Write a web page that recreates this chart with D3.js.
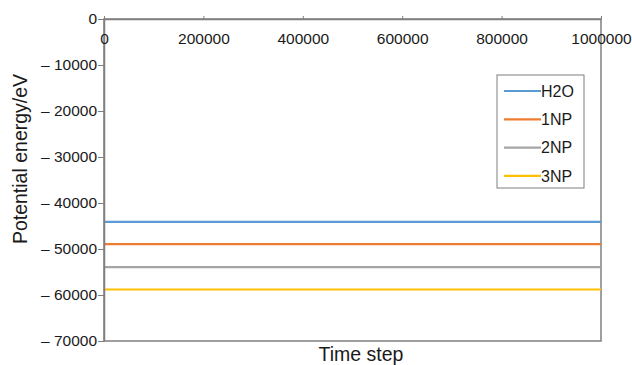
<!DOCTYPE html>
<html lang="en">
    <head>
        <meta charset="utf-8">
        <title>Potential energy vs time step</title>
        <script src="https://d3js.org/d3.v7.min.js"></script>
        <style>
            body { margin: 0; background: #fff; }
            text { font-family: "Liberation Sans", Arial, sans-serif; fill: #1a1a1a; }
        </style>
    </head>
    <body>
        <script type="text/javascript">

            var outerWidth = 632;
            var outerHeight = 365;
            var margin = { left:104, top:19, right:31, bottom:24 };
            var innerWidth = outerWidth - margin.left - margin.right;
            var innerHeight = outerHeight - margin.top - margin.bottom;

            // data
            var timeSteps = [0, 100000, 200000, 300000, 400000, 500000, 600000, 700000, 800000, 900000, 1000000];
            var seriesNames = ["H2O", "1NP", "2NP", "3NP"];
            var h2o = [-44100, -44100, -44100, -44100, -44100, -44100, -44100, -44100, -44100, -44100, -44100];
            var np1 = [-48950, -48950, -48950, -48950, -48950, -48950, -48950, -48950, -48950, -48950, -48950];
            var np2 = [-53950, -53950, -53950, -53950, -53950, -53950, -53950, -53950, -53950, -53950, -53950];
            var np3 = [-58800, -58800, -58800, -58800, -58800, -58800, -58800, -58800, -58800, -58800, -58800];
            var xTicks = [0, 200000, 400000, 600000, 800000, 1000000];
            var yTicks = [0, -10000, -20000, -30000, -40000, -50000, -60000, -70000];
            var colors = ["#5b9bd5", "#ed7d31", "#a5a5a5", "#ffc000"];

            var seriesValues = [h2o, np1, np2, np3];

            var svg = d3.select("body")
                        .append("svg")
                        .attr("width", outerWidth)
                        .attr("height", outerHeight);

            var g = svg.append("g")
                .attr("transform", `translate(${margin.left},${margin.top})`);

            var xScale = d3.scaleLinear()
                            .domain([0, 1000000])
                            .range([0, innerWidth]);

            var yScale = d3.scaleLinear()
                            .domain([-70000, 0])
                            .range([innerHeight, 0]);

            // frame
            g.append("rect")
                .attr("width", innerWidth)
                .attr("height", innerHeight)
                .attr("fill", "none")
                .attr("stroke", "#7f7f7f")
                .attr("stroke-width", 1.5);

            // series
            var line = d3.line()
                .x((d, i) => xScale(timeSteps[i]))
                .y(d => yScale(d));

            seriesValues.forEach(function(vals, k) {
                g.append("path")
                    .datum(vals)
                    .attr("d", line)
                    .attr("fill", "none")
                    .attr("stroke", colors[k])
                    .attr("stroke-width", 2.2);
            });

            // y axis
            var fmtY = d => d === 0 ? "0" : "\u2013 " + Math.abs(d);
            var yAxis = g.append("g")
                .call(d3.axisLeft(yScale).tickValues(yTicks).tickFormat(fmtY).tickSize(6).tickSizeOuter(0));
            yAxis.select(".domain").attr("stroke", "#7f7f7f").attr("stroke-width", 1.5);
            yAxis.selectAll(".tick line").attr("stroke", "#7f7f7f");
            yAxis.selectAll("text").attr("font-size", 15.5).attr("x", -7).attr("fill", "#1a1a1a");

            // x axis on top, labels inside
            var xAxis = g.append("g")
                .call(d3.axisTop(xScale).tickValues(xTicks).tickFormat(d => d).tickSize(3).tickSizeOuter(0));
            xAxis.select(".domain").attr("stroke", "#7f7f7f").attr("stroke-width", 1.5);
            xAxis.selectAll(".tick line").attr("stroke", "#7f7f7f");
            xAxis.selectAll("text")
                .attr("font-size", 15.5)
                .attr("y", 20)
                .attr("dy", "0.32em")
                .attr("fill", "#1a1a1a");

            // axis titles
            svg.append("text")
                .attr("transform", "translate(27,159) rotate(-90)")
                .attr("text-anchor", "middle")
                .attr("font-size", 19.5)
                .text("Potential energy/eV");

            svg.append("text")
                .attr("x", 361)
                .attr("y", 361)
                .attr("text-anchor", "middle")
                .attr("font-size", 19.5)
                .text("Time step");

            // legend
            var legend = svg.append("g").attr("transform", "translate(497,75)");
            legend.append("rect")
                .attr("width", 87)
                .attr("height", 113)
                .attr("fill", "#fff")
                .attr("stroke", "#7f7f7f")
                .attr("stroke-width", 1);

            var rows = legend.selectAll("g.row")
                .data(seriesNames)
                .enter()
                .append("g")
                .attr("class", "row")
                .attr("transform", (d, i) => `translate(0,${16 + i * 28.3})`);

            rows.append("line")
                .attr("x1", 7)
                .attr("x2", 44)
                .attr("stroke", (d, i) => colors[i])
                .attr("stroke-width", 2.2);

            rows.append("text")
                .attr("x", 44)
                .attr("dy", "0.35em")
                .attr("font-size", 16)
                .text(d => d);

        </script>
    </body>
</html>
